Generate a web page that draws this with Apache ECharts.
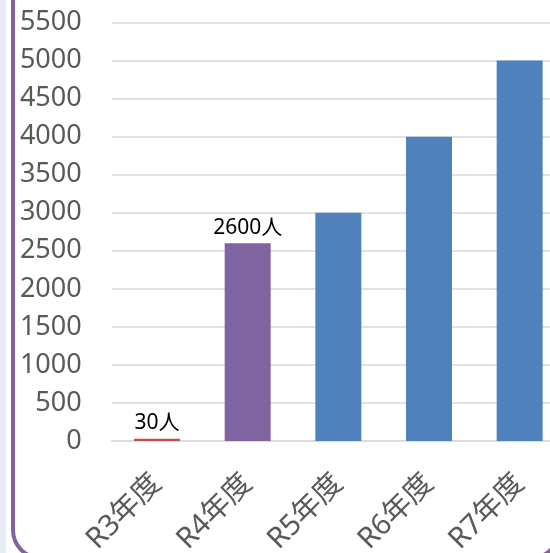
<!DOCTYPE html>
<html>
<head>
<meta charset="utf-8">
<script src="https://cdn.jsdelivr.net/npm/echarts@6/dist/echarts.min.js"></script>
<style>
  html, body { margin: 0; padding: 0; background: #ffffff; overflow: hidden; }
  #chart { width: 565px; height: 553px; }
</style>
</head>
<body>
<div id="chart"></div>
<script>
// Fiscal years and headcounts
const years = ['R3年度', 'R4年度', 'R5年度', 'R6年度', 'R7年度'];
const people = [30, 2600, 3000, 4000, 5000];
// Which bars carry a value label
const labelled = [true, true, false, false, false];
// Bar fill colours
const barColors = ['#c0504d', '#8064a2', '#4f81bd', '#4f81bd', '#4f81bd'];

const axisFont = "'Noto Sans', 'Noto Sans CJK JP', sans-serif";

const chart = echarts.init(document.getElementById('chart'), null, { renderer: 'canvas' });

chart.setOption({
  animation: false,
  backgroundColor: '#ffffff',
  graphic: [
    {
      type: 'rect', z: -10, silent: true,
      shape: { x: 0, y: 0, width: 6, height: 553 },
      style: { fill: '#e6ebf5' }
    },
    {
      type: 'rect', z: -9, silent: true,
      shape: { x: 13, y: -40, width: 546, height: 598, r: 28 },
      style: { fill: 'none', stroke: '#8064a2', lineWidth: 4 }
    }
  ],
  grid: {
    left: 111.7, right: 0, top: 22.5, bottom: 112,
    containLabel: false, outerBoundsMode: 'none'
  },
  xAxis: {
    type: 'category',
    data: years,
    axisTick: { show: false },
    axisLine: { show: true, lineStyle: { color: '#d9d9d9', width: 1.5 } },
    axisLabel: {
      rotate: 45, margin: 38, color: '#595959',
      fontSize: 29, fontFamily: axisFont, interval: 0
    }
  },
  yAxis: {
    type: 'value',
    min: 0, max: 5500, interval: 500,
    axisLine: { show: false },
    axisTick: { show: false },
    splitLine: { lineStyle: { color: '#d9d9d9', width: 1.5 } },
    axisLabel: {
      margin: 30, color: '#595959', fontSize: 27, fontFamily: axisFont,
      formatter: v => String(v)
    }
  },
  series: [{
    type: 'bar',
    barWidth: 46,
    data: people.map((v, i) => ({
      value: v,
      itemStyle: { color: barColors[i] },
      label: {
        show: labelled[i],
        position: 'top',
        distance: 5,
        formatter: v + '人',
        color: '#000000',
        fontSize: 21,
        fontFamily: "'Noto Sans', 'Noto Sans CJK JP', sans-serif"
      }
    }))
  }]
});
</script>
</body>
</html>
